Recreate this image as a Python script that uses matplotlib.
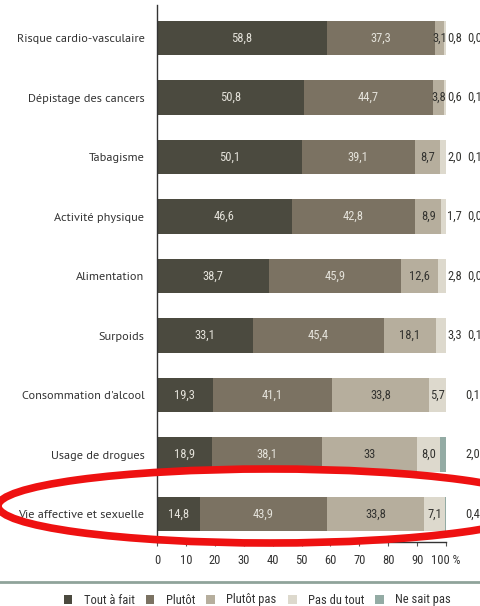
import matplotlib
matplotlib.use("Agg")
import matplotlib.pyplot as plt
from matplotlib.patches import Patch, Ellipse
from matplotlib.lines import Line2D
import numpy as np

categories = ["Risque cardio-vasculaire", "Dépistage des cancers", "Tabagisme",
              "Activité physique", "Alimentation", "Surpoids",
              "Consommation d'alcool", "Usage de drogues", "Vie affective et sexuelle"]
series_names = ["Tout à fait", "Plutôt", "Plutôt pas", "Pas du tout", "Ne sait pas"]
tout_a_fait = [58.8, 50.8, 50.1, 46.6, 38.7, 33.1, 19.3, 18.9, 14.8]
plutot = [37.3, 44.7, 39.1, 42.8, 45.9, 45.4, 41.1, 38.1, 43.9]
plutot_pas = [3.1, 3.8, 8.7, 8.9, 12.6, 18.1, 33.8, 33.0, 33.8]
pas_du_tout = [0.8, 0.6, 2.0, 1.7, 2.8, 3.3, 5.7, 8.0, 7.1]
ne_sait_pas = [0.0, 0.1, 0.1, 0.0, 0.0, 0.1, 0.1, 2.0, 0.4]
value_labels = [
    ["58,8", "37,3", "3,1", "0,8", "0,0"],
    ["50,8", "44,7", "3,8", "0,6", "0,1"],
    ["50,1", "39,1", "8,7", "2,0", "0,1"],
    ["46,6", "42,8", "8,9", "1,7", "0,0"],
    ["38,7", "45,9", "12,6", "2,8", "0,0"],
    ["33,1", "45,4", "18,1", "3,3", "0,1"],
    ["19,3", "41,1", "33,8", "5,7", "0,1"],
    ["18,9", "38,1", "33", "8,0", "2,0"],
    ["14,8", "43,9", "33,8", "7,1", "0,4"],
]
xticks = [0, 10, 20, 30, 40, 50, 60, 70, 80, 90, 100]
xtick_labels = ["0", "10", "20", "30", "40", "50", "60", "70", "80", "90", "100 %"]

colors = ["#4b4a3f", "#7b7262", "#b6ae9d", "#ddd9cd", "#93aba4"]
text_colors = ["#e4e2da", "#e4e2da", "#333330", "#333330", "#333330"]

NUM_FONT = ["Roboto Condensed", "DejaVu Sans"]
LBL_FONT = ["PT Sans", "DejaVu Sans"]
NUM_SIZE = 9

fig = plt.figure(figsize=(4.81, 6.06), dpi=100)
ax = fig.add_axes([157/481, 64/606, 289/481, 537/606])

data = np.array([tout_a_fait, plutot, plutot_pas, pas_du_tout, ne_sait_pas])
y = np.arange(len(categories))
left = np.zeros(len(categories))
for i in range(5):
    ax.barh(y, data[i], left=left, height=0.58, color=colors[i], edgecolor="none")
    left = left + data[i]

# value labels
for r in range(len(categories)):
    cum = 0.0
    for i in range(5):
        v = data[i][r]
        lab = value_labels[r][i]
        if i < 3 or (i == 3 and r >= 6):
            xpos = cum + v / 2
            if i == 2 and v < 5:
                xpos = cum + v / 2 + 0.2
            ax.text(xpos, r, lab, ha="center", va="center", fontsize=NUM_SIZE,
                    color=text_colors[i], family=NUM_FONT)
        elif i == 3:
            ax.text(103.0, r, lab, ha="center", va="center", fontsize=NUM_SIZE,
                    color="#333330", family=NUM_FONT, clip_on=False)
        else:
            xpos = 109.2 if r >= 6 else 110.0
            ax.text(xpos, r, lab, ha="center", va="center", fontsize=NUM_SIZE,
                    color="#333330", family=NUM_FONT, clip_on=False)
        cum += v

ax.set_xlim(0, 100)
ax.set_ylim(8.47, -0.555)
ax.set_yticks(y)
ax.set_yticklabels(categories, family=LBL_FONT, fontsize=8.8, color="#333333")
ax.tick_params(axis="y", length=0, pad=9)
ax.set_xticks(xticks)
ax.set_xticklabels(xtick_labels, family=NUM_FONT, fontsize=NUM_SIZE, color="#333333")
ax.tick_params(axis="x", length=3, width=0.8, color="#555555", pad=6)
for s in ["top", "right"]:
    ax.spines[s].set_visible(False)
ax.spines["left"].set_color("#333333")
ax.spines["bottom"].set_color("#333333")
ax.spines["left"].set_linewidth(1.0)
ax.spines["bottom"].set_linewidth(1.0)

# separator line
fig.add_artist(Line2D([0, 1], [1 - 582/606, 1 - 582/606], transform=fig.transFigure,
                      color="#8fa39a", lw=2))

# legend
handles = [Patch(facecolor=c, edgecolor="none") for c in colors]
leg = fig.legend(handles, series_names, loc="center", bbox_to_anchor=(0.535, 1 - 600/606),
                 ncol=5, frameon=False, handlelength=0.7, handleheight=0.7,
                 handletextpad=0.9, columnspacing=0.9,
                 prop={"family": NUM_FONT, "size": NUM_SIZE})
for t in leg.get_texts():
    t.set_color("#333333")

# red ellipse highlight
ell = Ellipse((270/481, 1 - 506/606), 2 * 272/481, 2 * 37/606, transform=fig.transFigure,
              fill=False, edgecolor="#ee1111", lw=5.5)
fig.add_artist(ell)

fig.savefig("out.png", dpi=100)
